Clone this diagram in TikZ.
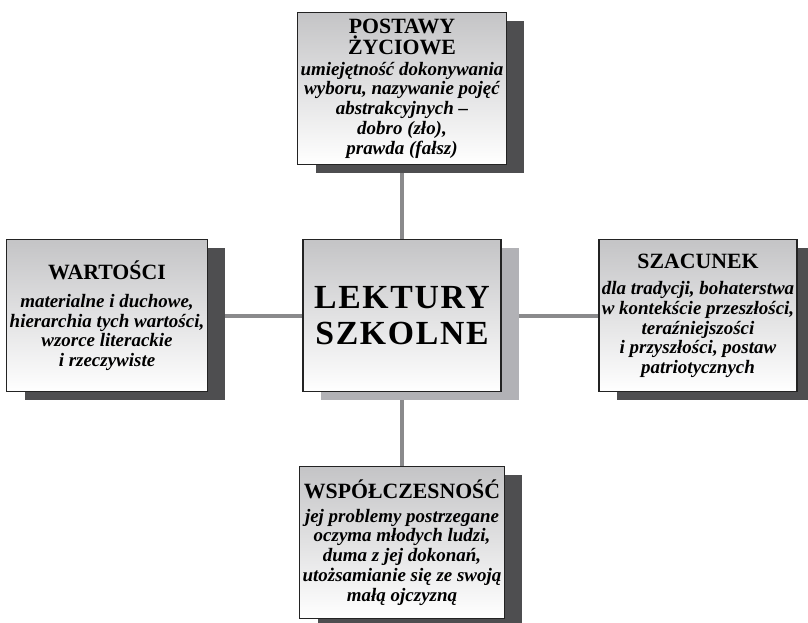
\documentclass[tikz,border=0pt]{standalone}
\usepackage{fontspec}
\setmainfont{Liberation Serif}
\usepackage{xcolor}
\definecolor{lkshadow}{RGB}{78,78,80}
\definecolor{lkhubshadow}{RGB}{178,178,182}
\definecolor{lkline}{RGB}{138,138,140}
\definecolor{lkedge}{RGB}{35,35,35}
\definecolor{lkfill}{RGB}{196,196,198}
\usetikzlibrary{shadows,backgrounds}
\newcommand{\boxhead}[1]{{\fontsize{15.5}{15.5}\selectfont\bfseries\upshape #1}}

\begin{document}
\begin{tikzpicture}[
  boxbase/.style={draw=lkedge,line width=0.8pt,top color=lkfill,bottom color=white,
                  minimum width=4.95cm,minimum height=3.8cm,align=center,inner sep=2pt,
                  font=\fontsize{13.5}{14}\selectfont\bfseries\itshape},
  topicbox/.style={boxbase,
                  drop shadow={shadow xshift=0.45cm,shadow yshift=-0.22cm,fill=lkshadow,opacity=1}},
  hubbox/.style={boxbase,font=\fontsize{24}{25}\selectfont\bfseries,
                  drop shadow={shadow xshift=0.45cm,shadow yshift=-0.22cm,fill=lkhubshadow,opacity=1}},
  link/.style={draw=lkline,line width=2.8pt},
]
  \useasboundingbox (0,0) rectangle (20.2,15.55);

  % Hub
  \node[hubbox] (lektury) at (10.05,7.66) {\addfontfeature{LetterSpace=5}LEKTURY\\[1pt]\addfontfeature{LetterSpace=5}SZKOLNE};

  % Topics
  \node[topicbox] (postawy) at (10.05,13.34) {\boxhead{POSTAWY}\\[1pt]\boxhead{ŻYCIOWE}\\[1pt]umiejętność dokonywania\\wyboru, nazywanie pojęć\\abstrakcyjnych --\\dobro (zło),\\prawda (fałsz)};
  \node[topicbox] (wartosci) at (2.675,7.66) {\boxhead{WARTOŚCI}\\[6pt]materialne i duchowe,\\hierarchia tych wartości,\\wzorce literackie\\i rzeczywiste};
  \node[topicbox] (szacunek) at (17.45,7.66) {\boxhead{SZACUNEK}\\[5pt]dla tradycji, bohaterstwa\\w kontekście przeszłości,\\teraźniejszości\\i przyszłości, postaw\\patriotycznych};
  \node[topicbox] (wspolczesnosc) at (10.05,1.99) {\boxhead{WSPÓŁCZESNOŚĆ}\\[3pt]jej problemy postrzegane\\oczyma młodych ludzi,\\duma z jej dokonań,\\utożsamianie się ze swoją\\małą ojczyzną};

  % Links
  \begin{scope}[on background layer]
    \draw[link] (postawy) -- (lektury);
    \draw[link] (lektury) -- (wspolczesnosc);
    \draw[link] (wartosci) -- (lektury);
    \draw[link] (lektury) -- (szacunek);
  \end{scope}
\end{tikzpicture}
\end{document}
